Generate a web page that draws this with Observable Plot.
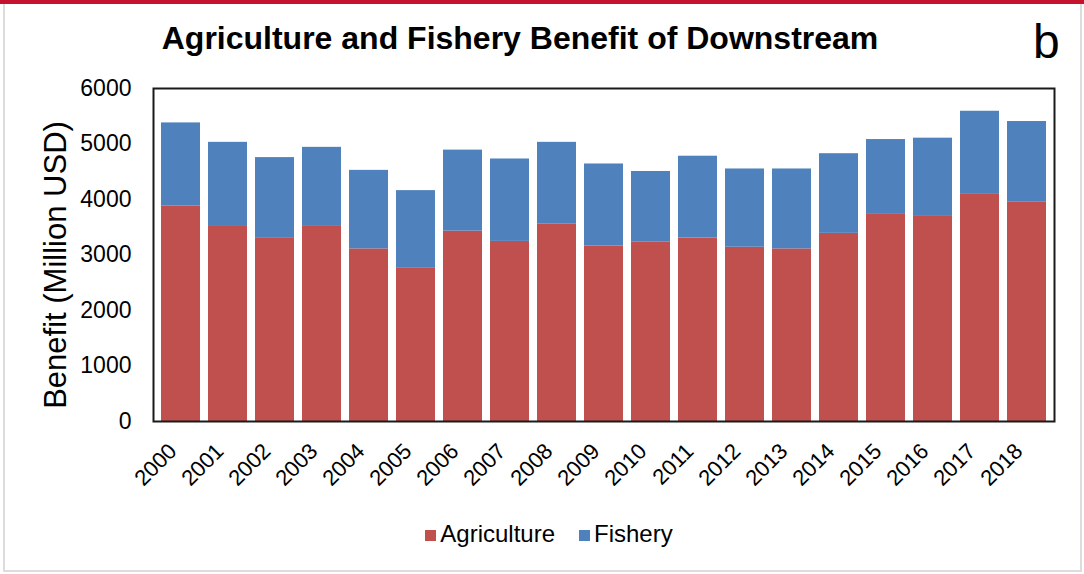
<!DOCTYPE html>
<html>
<head>
<meta charset="utf-8">
<script src="https://cdn.jsdelivr.net/npm/d3@7"></script>
<script src="https://cdn.jsdelivr.net/npm/@observablehq/plot@0.6"></script>
<style>
  html, body { margin: 0; padding: 0; background: #fff; }
  #wrap { position: relative; width: 1084px; height: 574px; overflow: hidden; font-family: Arial, "Liberation Sans", sans-serif; background: #fff; }
  #topbar { position: absolute; left: 0; top: 0; width: 1084px; height: 4px; background: #C4122F; }
  #border { position: absolute; left: 3px; top: 4px; width: 1075px; height: 566px; border: 2px solid #dcdcdc; border-top: none; }
  #title { position: absolute; left: 0; width: 1040px; top: 20px; text-align: center; font-weight: bold; font-size: 32px; color: #000; }
  #letter { position: absolute; left: 1033px; top: 14px; font-size: 48px; color: #000; }
  #chart { position: absolute; left: 0; top: 0; }
  #legend { position: absolute; top: 520px; left: 0; width: 1098px; text-align: center; font-size: 24px; color: #000; }
  .sw { display: inline-block; width: 11px; height: 11px; margin-right: 4px; vertical-align: 1px; }
  .item { margin: 0 12px; }
</style>
</head>
<body>
<div id="wrap">
  <div id="topbar"></div>
  <div id="border"></div>
  <div id="chart"></div>
  <div id="title">Agriculture and Fishery Benefit of Downstream</div>
  <div id="letter">b</div>
  <div id="legend"></div>
</div>
<script>
const years = ["2000","2001","2002","2003","2004","2005","2006","2007","2008","2009","2010","2011","2012","2013","2014","2015","2016","2017","2018"];
const agriculture = [3880, 3530, 3300, 3515, 3110, 2760, 3430, 3245, 3555, 3160, 3230, 3305, 3140, 3110, 3390, 3745, 3695, 4105, 3950];
const fishery = [1500, 1500, 1455, 1425, 1415, 1400, 1460, 1485, 1475, 1480, 1275, 1475, 1410, 1440, 1435, 1335, 1410, 1485, 1455];
const seriesNames = ["Agriculture", "Fishery"];
const seriesColors = ["#C0504D", "#4F81BD"];
const yTicks = [0, 1000, 2000, 3000, 4000, 5000, 6000];
const yLabel = "Benefit (Million USD)";

const rows = [];
years.forEach((y, i) => {
  rows.push({year: y, type: seriesNames[0], value: agriculture[i]});
  rows.push({year: y, type: seriesNames[1], value: fishery[i]});
});

const chart = Plot.plot({
  width: 1084,
  height: 505,
  marginLeft: 153,
  marginRight: 30,
  marginTop: 88,
  marginBottom: 84,
  style: { fontFamily: "Arial, 'Liberation Sans', sans-serif", background: "transparent", color: "#000" },
  x: { domain: years, paddingInner: 0.17, paddingOuter: 0.085, axis: null },
  y: { domain: [0, 6000], ticks: yTicks, axis: null },
  color: { domain: seriesNames, range: seriesColors },
  marks: [
    Plot.barY(rows, { x: "year", y: "value", fill: "type", order: seriesNames }),
    Plot.axisY({ ticks: yTicks, tickSize: 0, tickPadding: 22, fontSize: 23, label: null, tickFormat: d => String(d) }),
    Plot.text([yLabel], { frameAnchor: "left", textAnchor: "middle", rotate: -90, dx: -97, dy: 10, fontSize: 31, fill: "#000" }),
    Plot.text(years, { x: d => d, frameAnchor: "bottom", rotate: -45, textAnchor: "end", dx: -3, dy: 31, fontSize: 22, fill: "#000" }),
    Plot.frame({ stroke: "#1a1a1a", strokeWidth: 2 })
  ]
});
document.getElementById("chart").appendChild(chart);

const legend = document.getElementById("legend");
seriesNames.forEach((n, i) => {
  const s = document.createElement("span");
  s.className = "item";
  s.innerHTML = `<span class="sw" style="background:${seriesColors[i]}"></span>${n}`;
  legend.appendChild(s);
});
</script>
</body>
</html>
